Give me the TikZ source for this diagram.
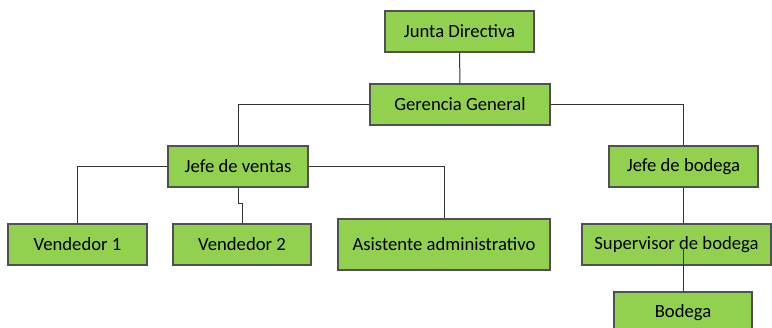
\documentclass[tikz,border=0pt]{standalone}
\usepackage{fontspec}
\setmainfont{Carlito}
\definecolor{cajaverde}{HTML}{92D050}
\definecolor{bordegris}{HTML}{505050}
\tikzset{
    cargo/.style={draw=bordegris, fill=cajaverde, line width=0.9pt, font=\fontsize{14}{16}\selectfont, inner sep=0pt},
    enlace/.style={draw=black!80, line width=0.75pt}
}
\begin{document}
\begin{tikzpicture}[x=0.75pt, y=-0.75pt]
        \useasboundingbox (0,0) rectangle (772,328);
        % nivel superior
        \node[cargo, minimum width=111.75pt, minimum height=30.75pt] (junta) at (459.5,31.5) {Junta Directiva};
        \node[cargo, minimum width=135pt, minimum height=30.75pt] (gerencia) at (460,104.5) {Gerencia General};
        % jefaturas
        \node[cargo, minimum width=105pt, minimum height=30.75pt] (ventas) at (238,166.5) {Jefe de ventas};
        \node[cargo, minimum width=111.75pt, minimum height=30.75pt] (jbodega) at (683.5,166.5) {Jefe de bodega};
        % personal
        \node[cargo, minimum width=104.25pt, minimum height=30.75pt] (vend1) at (77.5,244.5) {Vendedor 1};
        \node[cargo, minimum width=103.5pt, minimum height=30.75pt] (vend2) at (242,244.5) {Vendedor 2};
        \node[cargo, minimum width=159pt, minimum height=38.25pt] (asist) at (444,244.5) {Asistente administrativo};
        \node[cargo, minimum width=141.75pt, minimum height=30.75pt] (superv) at (676.5,244.5) {Supervisor de bodega};
        \node[cargo, minimum width=103.5pt, minimum height=30.75pt] (bodega) at (683,312.5) {Bodega};

        % conexiones
        \draw[enlace] (junta.south) -- (gerencia.north);
        \draw[enlace] (gerencia.west) -| (ventas.north);
        \draw[enlace] (gerencia.east) -| (jbodega.north);
        \draw[enlace] (ventas.west) -| (vend1.north);
        \draw[enlace] (ventas.south) -- ++(0,16) -| (vend2.north);
        \draw[enlace] (ventas.east) -| (asist.north);
        \draw[enlace] (jbodega.south) -- (jbodega.south |- superv.north);
        \coordinate (cruce) at (bodega.north |- superv.center);
        \draw[enlace] (cruce) ++(0,3) -- (bodega.north);
\end{tikzpicture}
\end{document}
